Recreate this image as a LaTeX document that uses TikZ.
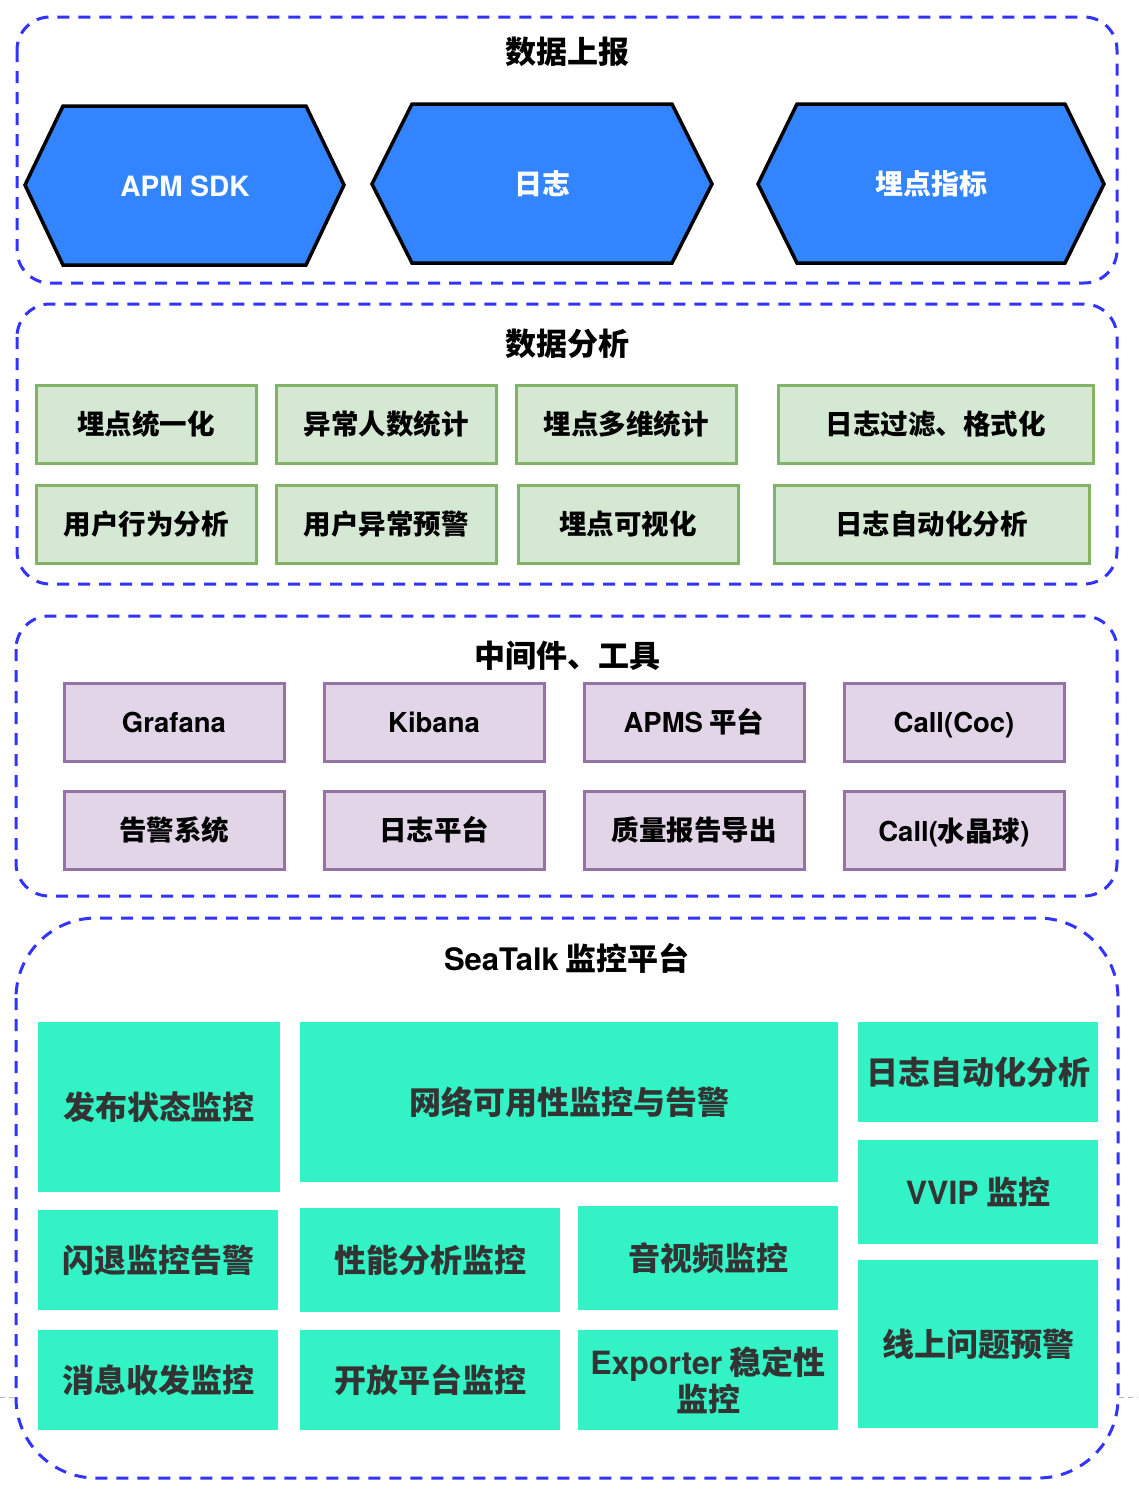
\documentclass[tikz,border=0pt]{standalone}
\usepackage{fontspec}
\setmainfont{Noto Sans CJK SC}
\newfontfamily\lat{TeX Gyre Heros}
\definecolor{dashblue}{RGB}{51,51,255}
\definecolor{hexblue}{RGB}{51,133,255}
\definecolor{gfill}{RGB}{213,232,212}
\definecolor{gline}{RGB}{130,179,102}
\definecolor{pfill}{RGB}{225,213,231}
\definecolor{pline}{RGB}{150,115,166}
\definecolor{teal}{RGB}{51,242,197}
\definecolor{tgray}{RGB}{51,51,51}
\tikzset{
  container/.style={draw=dashblue, line width=3pt, dash pattern=on 12pt off 9pt},
  hexa/.style={draw=black, line width=3.5pt, fill=hexblue, line join=miter},
  hextext/.style={text=white, font=\fontsize{28}{32}\selectfont\bfseries},
  title/.style={text=black, font=\fontsize{31}{34}\selectfont\bfseries},
  gbox/.style={draw=gline, fill=gfill, line width=3pt, text=black, font=\fontsize{27.5}{32}\selectfont\bfseries},
  pbox/.style={draw=pline, fill=pfill, line width=3pt, text=black, font=\fontsize{27.5}{32}\selectfont\bfseries},
  tbox/.style={fill=teal, text=tgray, font=\fontsize{32}{37}\selectfont\bfseries, align=center},
}
\newcommand\bx[7]{\node[#6, inner sep=0pt, outer sep=0pt, minimum width={(#4-#2)*1pt}, minimum height={(#5-#3)*1pt}] (#1) at ({(#2+#4)/2},{(#3+#5)/2}) {#7};}
\newcommand\lowered[2]{\raisebox{-#1}[\height][\depth]{#2}}
\begin{document}
\begin{tikzpicture}[x=1pt,y=-1pt]
\useasboundingbox[fill=white] (0,0) rectangle (1138,1502);

% containers
\draw[container, rounded corners=33pt] (17,17) rectangle (1117,283);
\draw[container, rounded corners=33pt] (17,304) rectangle (1117,584);
\draw[container, rounded corners=33pt] (16,616) rectangle (1117,896);
\draw[container, rounded corners=80pt] (16,918) rectangle (1118,1478);

% faint gray line at the page edge
\coordinate (gl1) at (0,1397); \coordinate (gl2) at (15,1397);
\coordinate (gr1) at (1119,1397); \coordinate (gr2) at (1138,1397);
\draw[gray!55, line width=1pt, dash pattern=on 5pt off 4pt] (gl1) -- (gl2);
\draw[gray!55, line width=1pt, dash pattern=on 5pt off 4pt] (gr1) -- (gr2);

% titles
\node[title] (t1) at (567,52) {数据上报};
\node[title] (t2) at (567,344) {数据分析};
\node[title] (t3) at (567,656) {中间件、工具};
\node[title] (t4) at (567,958) {{\lat SeaTalk} 监控平台};

% hexagons
\path[hexa] (25,185) -- (63,106) -- (306,106) -- (344,185) -- (306,265) -- (63,265) -- cycle;
\node[hextext] (h1) at (185,186) {{\lat APM SDK}};
\path[hexa] (372,184) -- (412,104) -- (672,104) -- (712,184) -- (672,263) -- (412,263) -- cycle;
\node[hextext] (h2) at (542,184) {日志};
\path[hexa] (758,184) -- (797,104) -- (1065,104) -- (1104,184) -- (1065,263) -- (797,263) -- cycle;
\node[hextext] (h3) at (931,184) {埋点指标};

% green boxes
\bx{g1}{36}{385}{256}{463}{gbox}{埋点统一化}
\bx{g2}{276}{385}{496}{463}{gbox}{异常人数统计}
\bx{g3}{516}{385}{736}{463}{gbox}{埋点多维统计}
\bx{g4}{778}{385}{1093}{463}{gbox}{日志过滤、格式化}
\bx{g5}{36}{485}{256}{563}{gbox}{用户行为分析}
\bx{g6}{276}{485}{496}{563}{gbox}{用户异常预警}
\bx{g7}{518}{485}{738}{563}{gbox}{埋点可视化}
\bx{g8}{774}{485}{1089}{563}{gbox}{日志自动化分析}

% purple boxes
\bx{p1}{64}{683}{284}{761}{pbox}{{\lat Grafana}}
\bx{p2}{324}{683}{544}{761}{pbox}{{\lat Kibana}}
\bx{p3}{584}{683}{804}{761}{pbox}{{\lat APMS} 平台}
\bx{p4}{844}{683}{1064}{761}{pbox}{\lowered{3pt}{\lat Call(Coc)}}
\bx{p5}{64}{791}{284}{869}{pbox}{告警系统}
\bx{p6}{324}{791}{544}{869}{pbox}{日志平台}
\bx{p7}{584}{791}{804}{869}{pbox}{质量报告导出}
\bx{p8}{844}{791}{1064}{869}{pbox}{\lowered{2pt}{{\lat Call(}水晶球{\lat )}}}

% teal boxes
\bx{s1}{38}{1022}{280}{1192}{tbox}{发布状态监控}
\bx{s2}{300}{1022}{838}{1182}{tbox}{网络可用性监控与告警}
\bx{s3}{858}{1022}{1098}{1122}{tbox}{日志自动化分析}
\bx{s4}{858}{1140}{1098}{1244}{tbox}{{\lat VVIP} 监控}
\bx{s5}{858}{1260}{1098}{1428}{tbox}{线上问题预警}
\bx{s6}{38}{1210}{278}{1310}{tbox}{闪退监控告警}
\bx{s7}{300}{1208}{560}{1312}{tbox}{性能分析监控}
\bx{s8}{578}{1206}{838}{1310}{tbox}{音视频监控}
\bx{s9}{38}{1330}{278}{1430}{tbox}{消息收发监控}
\bx{s10}{300}{1330}{560}{1430}{tbox}{开放平台监控}
\bx{s11}{578}{1330}{838}{1430}{tbox}{{\lat Exporter} 稳定性\\监控}
\end{tikzpicture}
\end{document}
